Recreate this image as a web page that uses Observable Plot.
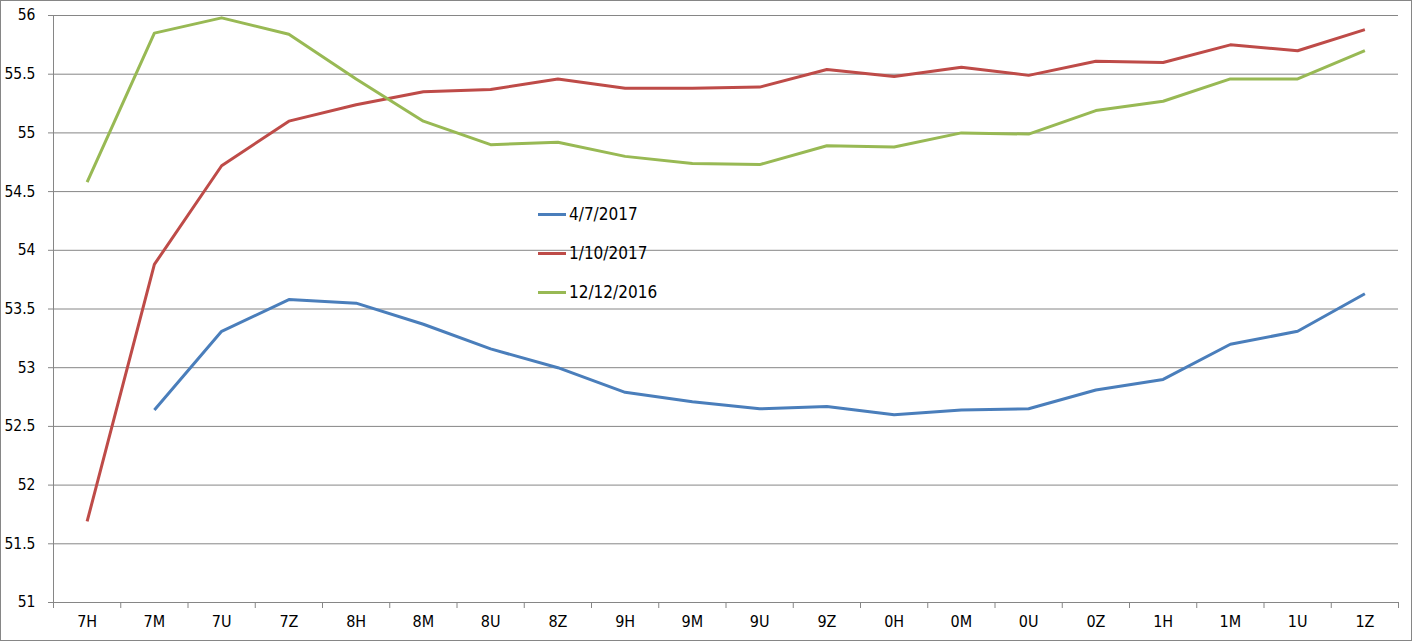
<!DOCTYPE html>
<html>
<head>
<meta charset="utf-8">
<script src="https://cdn.jsdelivr.net/npm/d3@7"></script>
<script src="https://cdn.jsdelivr.net/npm/@observablehq/plot@0.6"></script>
<style>
  html, body { margin: 0; padding: 0; background: #fff; }
  #wrap { position: relative; width: 1412px; height: 641px; box-sizing: border-box; border: 1px solid #868686; background: #fff; }
  #wrap svg { display: block; }
  .fontset { font-family: "DejaVu Sans Condensed", "DejaVu Sans", sans-serif; font-stretch: condensed; }
  #legend { position: absolute; left: 537px; top: 200px; font-size: 17px; color: #000; }
  #legend .item { position: absolute; left: 0; height: 20px; white-space: nowrap; display: flex; align-items: center; }
  #legend .sw { display: inline-block; width: 28px; height: 3px; margin-right: 3px; }
</style>
</head>
<body>
<div id="wrap" class="fontset"></div>
<script>
const categories = ["7H","7M","7U","7Z","8H","8M","8U","8Z","9H","9M","9U","9Z","0H","0M","0U","0Z","1H","1M","1U","1Z"];
const seriesNames = ["4/7/2017", "1/10/2017", "12/12/2016"];
const s_2017_04_07 = [null, 52.64, 53.31, 53.58, 53.55, 53.37, 53.16, 53.00, 52.79, 52.71, 52.65, 52.67, 52.60, 52.64, 52.65, 52.81, 52.90, 53.20, 53.31, 53.63];
const s_2017_01_10 = [51.69, 53.88, 54.72, 55.10, 55.24, 55.35, 55.37, 55.46, 55.38, 55.38, 55.39, 55.54, 55.48, 55.56, 55.49, 55.61, 55.60, 55.75, 55.70, 55.88];
const s_2016_12_12 = [54.58, 55.85, 55.98, 55.84, 55.46, 55.10, 54.90, 54.92, 54.80, 54.74, 54.73, 54.89, 54.88, 55.00, 54.99, 55.19, 55.27, 55.46, 55.46, 55.70];
const yTicks = [51, 51.5, 52, 52.5, 53, 53.5, 54, 54.5, 55, 55.5, 56];
const colors = ["#4A7EBB", "#BE4B48", "#98B954"];

const seriesValues = [s_2017_04_07, s_2017_01_10, s_2016_12_12];
const rows = [];
seriesValues.forEach((vals, si) => {
  vals.forEach((v, i) => rows.push({series: seriesNames[si], i, value: v == null ? NaN : v}));
});
const idx = categories.map((_, i) => i);
const bounds = d3.range(-0.5, categories.length, 1);

const grid = "#868686";
const chart = Plot.plot({
  width: 1410,
  height: 639,
  marginLeft: 52,
  marginRight: 13,
  marginTop: 14,
  marginBottom: 38,
  style: {fontFamily: '"DejaVu Sans Condensed", "DejaVu Sans", sans-serif', fontSize: "15px", background: "#fff", color: "#000", overflow: "visible"},
  x: {type: "linear", domain: [-0.5, categories.length - 0.5]},
  y: {domain: [51, 56]},
  color: {domain: seriesNames, range: colors},
  marks: [
    Plot.gridY(yTicks, {stroke: grid, strokeOpacity: 1, strokeWidth: 1}),
    Plot.ruleX([-0.5], {y1: 51, y2: 56, stroke: grid}),
    Plot.axisY(yTicks, {tickSize: 5, tickPadding: 13, stroke: grid, fill: "#000", label: null, fontSize: 15.5, tickFormat: d => String(d)}),
    Plot.axisX(bounds, {tickSize: 6, stroke: grid, tickFormat: () => "", label: null}),
    Plot.axisX(idx, {tickSize: 0, tickPadding: 13, fill: "#000", fontSize: 16, tickFormat: i => categories[i], label: null}),
    Plot.lineY(rows, {x: "i", y: "value", z: "series", stroke: "series", strokeWidth: 3, strokeLinejoin: "round", strokeLinecap: "butt"})
  ]
});
const wrap = document.getElementById("wrap");
wrap.appendChild(chart);

const legend = document.createElement("div");
legend.id = "legend";
const legendTops = [3, 42, 81];
seriesNames.forEach((name, k) => {
  const item = document.createElement("div");
  item.className = "item";
  item.style.top = legendTops[k] + "px";
  const sw = document.createElement("span");
  sw.className = "sw";
  sw.style.background = colors[k];
  const t = document.createElement("span");
  t.textContent = name;
  item.appendChild(sw);
  item.appendChild(t);
  legend.appendChild(item);
});
wrap.appendChild(legend);
</script>
</body>
</html>
